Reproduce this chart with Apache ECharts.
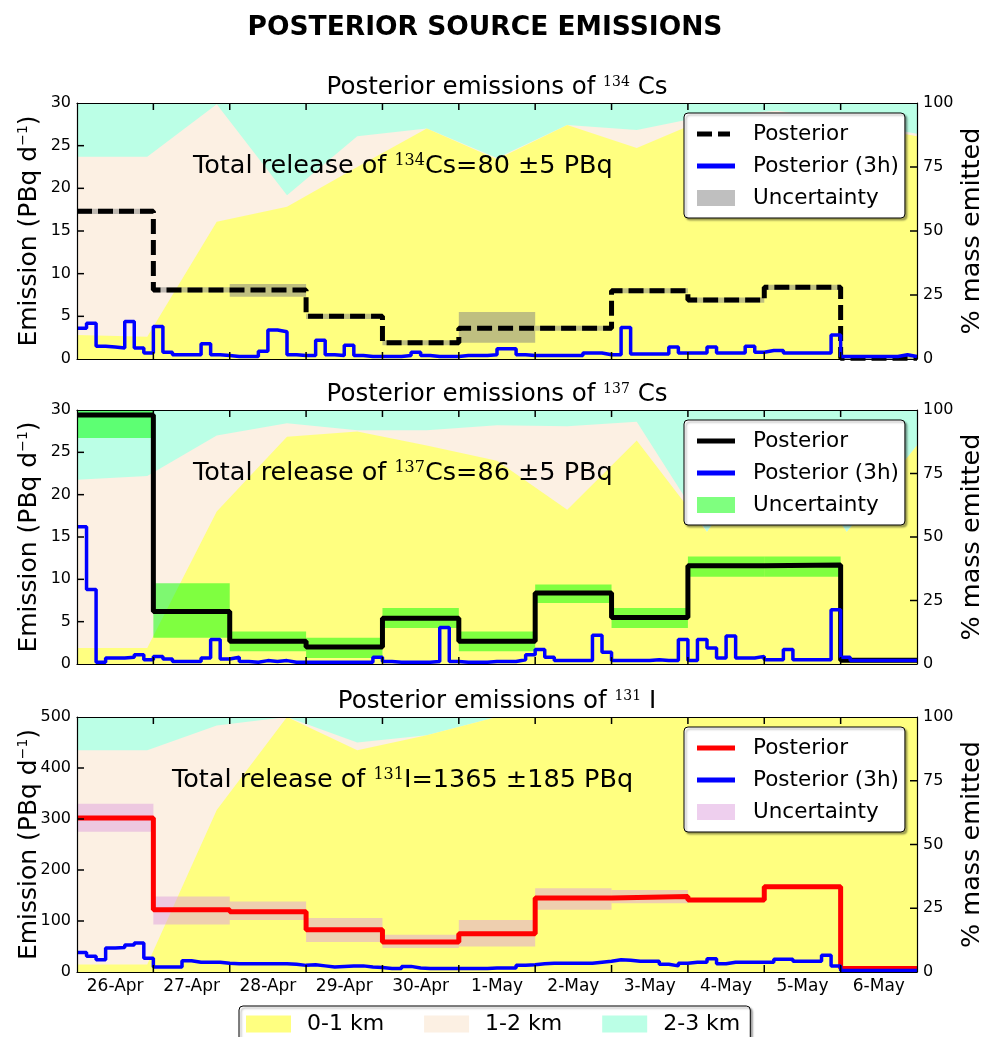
<!DOCTYPE html>
<html>
<head>
<meta charset="utf-8">
<title>Posterior source emissions</title>
<script src="https://cdn.jsdelivr.net/npm/echarts@6/dist/echarts.min.js"></script>
<style>
  body { margin: 0; background: #fff; }
  #chart { width: 985px; height: 1037px; }
</style>
</head>
<body>
<div id="chart"></div>
<script>
// ---- data ----
var dayLabels = ['26-Apr', '27-Apr', '28-Apr', '29-Apr', '30-Apr', '1-May', '2-May', '3-May', '4-May', '5-May', '6-May'];
var dayTicks = [1, 2, 3, 4, 5, 6, 7, 8, 9, 10];
var csTicks = [5, 10, 15, 20, 25];
var iTicks = [100, 200, 300, 400];
var pctTicks = [25, 50, 75];

// x (days from 26-Apr 00h) of the height-layer points
var layerX = [0, 0.92, 1.83, 2.75, 3.67, 4.58, 5.5, 6.42, 7.33, 8.25, 9.17, 10.08, 11];

// cumulative % of mass emitted below 1 km / below 2 km (rest up to 100 is 2-3 km)
var cs134Below1 = [9.4, 8.7, 53.6, 59.5, 75, 90, 78, 91.4, 82.4, 94, 96, 92, 87];
var cs134Below2 = [79, 79, 99.5, 64, 87, 90, 78.5, 91.4, 89.5, 95, 97, 93, 88];
var cs137Below1 = [6.3, 6.3, 60, 89.5, 91.5, 86, 80, 60.7, 88, 52, 92, 52, 86];
var cs137Below2 = [72.5, 74, 90, 94.8, 92, 92, 94, 93.6, 95.4, 52, 93, 52, 86];
var i131Below1 = [2.9, 2.9, 63.5, 100, 87, 92.8, 100, 100, 100, 100, 100, 100, 100];
var i131Below2 = [87, 87, 96.7, 100, 90, 92.8, 100, 100, 100, 100, 100, 100, 100];

// daily posterior (PBq/d) and uncertainty band
var cs134Post = [17.3, 8.1, 8.1, 5.0, 1.9, 3.6, 3.6, 8.0, 6.9, 8.4, 0.1];
var cs134Lo   = [17.0, 7.8, 7.3, 4.7, 1.6, 1.9, 3.3, 7.7, 6.6, 8.1, 0.0];
var cs134Hi   = [17.6, 8.4, 8.8, 5.3, 2.2, 5.5, 3.9, 8.3, 7.2, 8.7, 0.3];

var cs137Post = [29.4, 6.2, 2.7, 2.0, 5.4, 2.7, 8.4, 5.5, 11.6, 11.7, 0.45];
var cs137Lo   = [26.7, 3.1, 1.5, 0.7, 4.25, 1.5, 7.2, 4.25, 10.3, 10.3, 0.3];
var cs137Hi   = [30, 9.55, 3.85, 3.1, 6.6, 3.85, 9.4, 6.6, 12.7, 12.7, 0.6];

var i131Post = [302, 122, 118, 83, 59, 75, 145, 148, 141, 167, 7];
var i131Lo   = [275, 93, 102, 59, 47, 50, 122, 135, 137, 163, 3];
var i131Hi   = [330, 148, 138, 106, 73, 102, 164, 161, 145, 171, 11];

// 3-hourly posterior (8 values per day)
var cs134Post3h = [
  3.6, 4.2, 1.5, 1.4, 1.3, 4.4, 1.3, 0.7,
  3.8, 0.8, 0.5, 0.5, 0.5, 1.8, 0.5, 0.4,
  0.3, 0.3, 0.3, 0.9, 3.4, 3.2, 0.5, 0.4,
  0.4, 2.2, 0.5, 0.4, 1.6, 0.4, 0.3, 0.3,
  0.3, 0.3, 0.4, 0.8, 0.4, 0.3, 0.3, 0.3,
  0.4, 0.4, 0.4, 0.5, 1.2, 1.2, 0.5, 0.4,
  0.4, 0.4, 0.4, 0.4, 0.4, 0.7, 0.7, 0.5,
  0.5, 3.7, 0.6, 0.6, 0.6, 0.6, 1.4, 0.7,
  0.7, 0.7, 1.4, 0.7, 0.7, 0.7, 1.5, 0.8,
  1.0, 1.0, 0.7, 0.7, 0.7, 0.7, 0.7, 2.8,
  0.3, 0.3, 0.3, 0.3, 0.3, 0.3, 0.5, 0.3
];
var cs137Post3h = [
  16.2, 8.8, 0.2, 0.7, 0.7, 0.8, 1.1, 0.5,
  0.9, 0.6, 0.3, 0.3, 0.3, 0.7, 2.9, 0.6,
  0.8, 0.3, 0.2, 0.4, 0.3, 0.4, 0.2, 0.2,
  0.2, 0.2, 0.2, 0.2, 0.2, 0.2, 0.2, 0.8,
  0.3, 0.2, 0.2, 0.2, 0.2, 0.3, 4.3, 0.3,
  0.2, 0.2, 0.2, 0.3, 0.3, 0.3, 0.5, 1.1,
  1.7, 0.8, 0.4, 0.4, 0.4, 0.4, 3.4, 1.4,
  0.4, 0.4, 0.4, 0.4, 0.5, 0.4, 0.4, 2.9,
  0.4, 2.9, 1.9, 0.7, 3.3, 0.7, 0.7, 0.9,
  0.5, 0.5, 1.7, 0.5, 0.5, 0.5, 0.5, 6.4,
  0.8, 0.4, 0.4, 0.4, 0.4, 0.4, 0.4, 0.4
];
var i131Post3h = [
  38, 31, 24, 47, 48, 53, 57, 27,
  10, 10, 10, 22, 19, 19, 19, 17,
  16, 16, 16, 16, 16, 16, 15, 13,
  14, 12, 10, 11, 12, 12, 10, 9,
  7, 7, 11, 8, 7, 7, 7, 7,
  7, 7, 7, 8, 8, 8, 13, 14,
  16, 17, 17, 17, 17, 17, 19, 21,
  24, 23, 21, 21, 21, 15, 12, 17,
  19, 19, 26, 16, 19, 19, 19, 19,
  19, 25, 25, 21, 21, 21, 33, 12,
  3, 3, 3, 3, 3, 3, 3, 3
];

// ---- styling ----
var FONT = 'DejaVu Sans';
var YELLOW = '#ffff80', BEIGE = '#fcf0e3', CYAN = '#bbffe6';
var TICK = 7;

// legend icons: a bar of line thickness inside a 38x16 box
var ICON_SOLID = 'path://M0,0 M38,16 M0,5.5 h38 v5 h-38 z';
var ICON_DASH = 'path://M0,0 M38,16 M0,5.5 h15 v5 h-15 z M21,5.5 h12 v5 h-12 z';

var panels = [
  { top: 103, height: 256, iso: '134', elem: 'Cs', total: '=80 \u00b15 PBq', totalX: 193,
    yMax: 30, yStep: 5, yTicks: csTicks, post: cs134Post, lo: cs134Lo, hi: cs134Hi, h3: cs134Post3h,
    below1: cs134Below1, below2: cs134Below2,
    color: '#000', dash: [15, 6], icon: ICON_DASH, band: 'rgba(128,128,128,0.5)' },
  { top: 410, height: 254, iso: '137', elem: 'Cs', total: '=86 \u00b15 PBq', totalX: 193,
    yMax: 30, yStep: 5, yTicks: csTicks, post: cs137Post, lo: cs137Lo, hi: cs137Hi, h3: cs137Post3h,
    below1: cs137Below1, below2: cs137Below2,
    color: '#000', dash: 'solid', icon: ICON_SOLID, band: 'rgba(0,255,0,0.5)' },
  { top: 717, height: 255, iso: '131', elem: 'I', total: '=1365 \u00b1185 PBq', totalX: 172,
    yMax: 500, yStep: 100, yTicks: iTicks, post: i131Post, lo: i131Lo, hi: i131Hi, h3: i131Post3h,
    below1: i131Below1, below2: i131Below2,
    color: '#ff0000', dash: 'solid', icon: ICON_SOLID, band: 'rgba(221,160,221,0.5)' }
];

var legendText = {};

function stepData(vals, width) {
  var d = vals.map(function (v, i) { return [i * width, v]; });
  d.push([vals.length * width, vals[vals.length - 1]]);
  return d;
}

var option = {
  animation: false,
  backgroundColor: '#fff',
  textStyle: { fontFamily: FONT, color: '#000' },
  grid: [], xAxis: [], yAxis: [], legend: [], series: [], graphic: []
};

option.graphic.push({
  type: 'text', x: 485, y: 28, z: 100,
  style: { text: 'POSTERIOR SOURCE EMISSIONS', fontFamily: FONT, fontSize: 26.5, fontWeight: 'bold',
           fill: '#000', align: 'center', verticalAlign: 'middle' }
});

var lineStyle = { show: true, onZero: false, lineStyle: { color: '#000', width: 1.2 } };

panels.forEach(function (p, k) {
  var xi = 2 * k, yl = 2 * k, yr = 2 * k + 1;
  var midY = p.top + p.height / 2;
  option.grid.push({ left: 77, top: p.top, width: 840, height: p.height, containLabel: false });

  ['bottom', 'top'].forEach(function (pos) {
    option.xAxis.push({
      gridIndex: k, type: 'value', min: 0, max: 11, interval: 1, position: pos, z: 10,
      axisLine: lineStyle, axisTick: { show: false },
      axisLabel: { show: false }, splitLine: { show: false }
    });
  });

  option.yAxis.push({
    gridIndex: k, type: 'value', position: 'left', min: 0, max: p.yMax, interval: p.yStep, z: 10,
    axisLine: lineStyle, axisTick: { show: false },
    axisLabel: { fontSize: 16, color: '#000', margin: 6 },
    splitLine: { show: false }
  });
  option.yAxis.push({
    gridIndex: k, type: 'value', position: 'right', min: 0, max: 100, interval: 25, z: 10,
    axisLine: lineStyle, axisTick: { show: false },
    axisLabel: { fontSize: 16, color: '#000', margin: 6 },
    splitLine: { show: false }
  });

  // axis titles
  option.graphic.push({
    type: 'text', x: 29, y: midY, rotation: Math.PI / 2, z: 100,
    style: {
      text: '{a|Emission (PBq d}{s|\u22121}{a|)}', align: 'center', verticalAlign: 'middle',
      rich: {
        a: { fontSize: 25, fontFamily: FONT, fill: '#000' },
        s: { fontSize: 14, fontFamily: FONT, fill: '#000', verticalAlign: 'top' }
      }
    }
  });
  option.graphic.push({
    type: 'text', x: 972, y: midY, rotation: Math.PI / 2, z: 100,
    style: { text: '% mass emitted', fontFamily: FONT, fontSize: 25.5, fill: '#000',
             align: 'center', verticalAlign: 'middle' }
  });

  // panel title and total release note
  option.graphic.push({
    type: 'text', x: 497, y: p.top - 15, z: 100,
    style: {
      text: '{a|Posterior emissions of }{s|' + p.iso + '}{a| ' + p.elem + '}',
      align: 'center', verticalAlign: 'middle',
      rich: {
        a: { fontSize: 24.5, fontFamily: FONT, fill: '#000' },
        s: { fontSize: 14, fontFamily: 'DejaVu Serif', fill: '#000', verticalAlign: 'top' }
      }
    }
  });
  option.graphic.push({
    type: 'text', x: p.totalX, y: p.top + 63, z: 100,
    style: {
      text: '{a|Total release of }{s|' + p.iso + '}{a|' + p.elem + p.total + '}',
      align: 'left', verticalAlign: 'middle',
      rich: {
        a: { fontSize: 25.5, fontFamily: FONT, fill: '#000' },
        s: { fontSize: 16, fontFamily: 'DejaVu Serif', fill: '#000', verticalAlign: 'top' }
      }
    }
  });

  // height layers (right axis)
  var layers = [
    ['2-3 km', CYAN, layerX.map(function (x) { return [x, 100]; })],
    ['1-2 km', BEIGE, layerX.map(function (x, i) { return [x, p.below2[i]]; })],
    ['0-1 km', YELLOW, layerX.map(function (x, i) { return [x, p.below1[i]]; })]
  ];
  layers.forEach(function (l) {
    option.series.push({
      type: 'line', name: l[0], xAxisIndex: xi, yAxisIndex: yr, data: l[2],
      symbol: 'none', silent: true, z: 1,
      color: l[1], lineStyle: { width: 0 },
      areaStyle: { color: l[1], opacity: 1 }
    });
  });

  var nPost = 'post' + k, nH3 = 'h3' + k, nUnc = 'unc' + k;
  legendText[nPost] = 'Posterior';
  legendText[nH3] = 'Posterior (3h)';
  legendText[nUnc] = 'Uncertainty';

  option.series.push({
    type: 'custom', name: nUnc, xAxisIndex: xi, yAxisIndex: yl, z: 2,
    data: p.lo.map(function (v, i) { return [i, v, p.hi[i]]; }),
    encode: { x: 0, y: [1, 2] },
    itemStyle: { color: p.band },
    renderItem: function (params, api) {
      var a = api.coord([api.value(0), api.value(2)]);
      var b = api.coord([api.value(0) + 1, api.value(1)]);
      var cs = params.coordSys;
      var shape = echarts.graphic.clipRectByRect(
        { x: a[0], y: a[1], width: b[0] - a[0], height: b[1] - a[1] },
        { x: cs.x, y: cs.y, width: cs.width, height: cs.height });
      return shape && { type: 'rect', shape: shape, style: { fill: p.band } };
    }
  });
  option.series.push({
    type: 'line', name: nPost, xAxisIndex: xi, yAxisIndex: yl, z: 3,
    data: stepData(p.post, 1), step: 'end', symbol: 'none',
    color: p.color, lineStyle: { color: p.color, width: 5, type: p.dash }
  });
  option.series.push({
    type: 'line', name: nH3, xAxisIndex: xi, yAxisIndex: yl, z: 4,
    data: stepData(p.h3, 0.125), step: 'end', symbol: 'none',
    color: '#0000ff', lineStyle: { color: '#0000ff', width: 3.5 }
  });

  option.legend.push({
    orient: 'vertical', left: 684, top: p.top + 10,
    padding: [10, 6, 9, 13], itemWidth: 38, itemHeight: 16, itemGap: 10,
    backgroundColor: '#fff', borderColor: '#000', borderWidth: 1, borderRadius: 4,
    shadowColor: 'rgba(0,0,0,0.35)', shadowBlur: 2, shadowOffsetX: 2, shadowOffsetY: 2,
    textStyle: { fontSize: 21.5, color: '#000', padding: [0, 0, 0, 13] },
    formatter: function (name) { return legendText[name]; },
    selectedMode: false, z: 30,
    data: [
      { name: nPost, icon: p.icon, itemStyle: { color: p.color, borderWidth: 0 } },
      { name: nH3, icon: ICON_SOLID, itemStyle: { color: '#0000ff', borderWidth: 0 } },
      { name: nUnc, icon: 'rect', itemStyle: { color: p.band, borderWidth: 0 } }
    ]
  });
});

// date labels under the last panel (centred on each day)
option.xAxis.push({
  gridIndex: 2, type: 'category', data: dayLabels, boundaryGap: true, position: 'bottom',
  axisLine: { show: false, onZero: false }, axisTick: { show: false }, splitLine: { show: false },
  axisLabel: { fontSize: 17, color: '#000', margin: 6, interval: 0 }
});

option.legend.push({
  orient: 'horizontal', left: 239, top: 1006,
  padding: [7, 10, 20, 7], itemWidth: 45, itemHeight: 17, itemGap: 40,
  backgroundColor: '#fff', borderColor: '#000', borderWidth: 1, borderRadius: 4,
  shadowColor: 'rgba(0,0,0,0.35)', shadowBlur: 2, shadowOffsetX: 2, shadowOffsetY: 2,
  textStyle: { fontSize: 22, color: '#000', padding: [0, 0, 0, 11] },
  selectedMode: false,
  data: [
    { name: '0-1 km', icon: 'rect', itemStyle: { color: YELLOW, borderWidth: 0 } },
    { name: '1-2 km', icon: 'rect', itemStyle: { color: BEIGE, borderWidth: 0 } },
    { name: '2-3 km', icon: 'rect', itemStyle: { color: CYAN, borderWidth: 0 } }
  ]
});

var chart = echarts.init(document.getElementById('chart'), null, { renderer: 'canvas' });
chart.setOption(option);

// inward tick marks, placed through the axes' own scales after layout
function tick(a, b) {
  return { type: 'line', z: 200, silent: true,
           shape: { x1: a[0], y1: a[1], x2: b[0], y2: b[1] },
           style: { stroke: '#000', lineWidth: 1.5 } };
}
var ticks = [];
panels.forEach(function (p, k) {
  var leftSys = { xAxisIndex: 2 * k, yAxisIndex: 2 * k };
  var rightSys = { xAxisIndex: 2 * k, yAxisIndex: 2 * k + 1 };
  dayTicks.forEach(function (d) {
    var b = chart.convertToPixel(leftSys, [d, 0]);
    var t = chart.convertToPixel(leftSys, [d, p.yMax]);
    ticks.push(tick(b, [b[0], b[1] - TICK]));
    ticks.push(tick(t, [t[0], t[1] + TICK]));
  });
  p.yTicks.forEach(function (v) {
    var a = chart.convertToPixel(leftSys, [0, v]);
    ticks.push(tick(a, [a[0] + TICK, a[1]]));
  });
  pctTicks.forEach(function (v) {
    var a = chart.convertToPixel(rightSys, [11, v]);
    ticks.push(tick(a, [a[0] - TICK, a[1]]));
  });
});
chart.setOption({ graphic: option.graphic.concat(ticks) });
</script>
</body>
</html>
